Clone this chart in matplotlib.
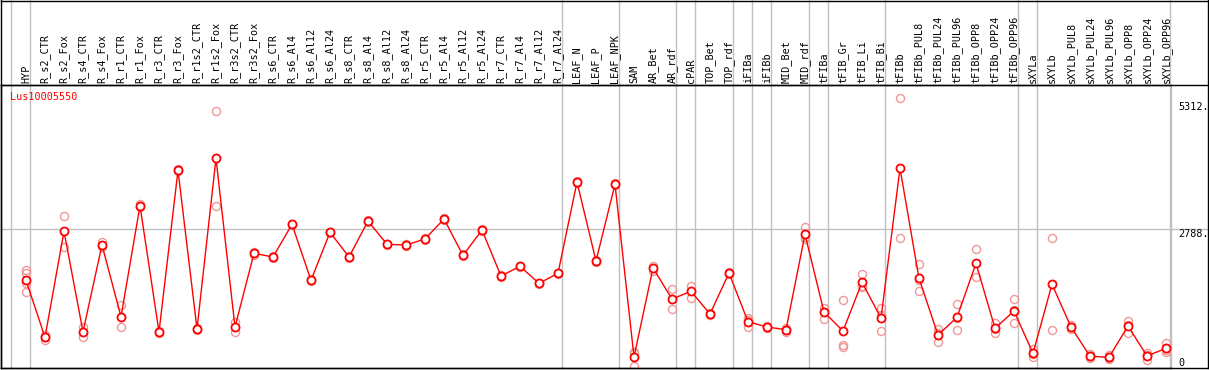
import numpy as np
import matplotlib
matplotlib.use("Agg")
import matplotlib.pyplot as plt
from matplotlib.lines import Line2D

categories = [
    "HYP", "R_s2_CTR", "R_s2_Fox", "R_s4_CTR", "R_s4_Fox", "R_r1_CTR", "R_r1_Fox",
    "R_r3_CTR", "R_r3_Fox", "R_r1s2_CTR", "R_r1s2_Fox", "R_r3s2_CTR", "R_r3s2_Fox",
    "R_s6_CTR", "R_s6_Al4", "R_s6_Al12", "R_s6_Al24", "R_s8_CTR", "R_s8_Al4",
    "R_s8_Al12", "R_s8_Al24", "R_r5_CTR", "R_r5_Al4", "R_r5_Al12", "R_r5_Al24",
    "R_r7_CTR", "R_r7_Al4", "R_r7_Al12", "R_r7_Al24", "LEAF_N", "LEAF_P", "LEAF_NPK",
    "SAM", "AR_Bet", "AR_rdf", "cPAR", "TOP_Bet", "TOP_rdf", "iFIBa", "iFIBb",
    "MID_Bet", "MID_rdf", "tFIBa", "tFIB_Gr", "tFIB_Li", "tFIB_Bi", "tFIBb",
    "tFIBb_PUL8", "tFIBb_PUL24", "tFIBb_PUL96", "tFIBb_OPP8", "tFIBb_OPP24",
    "tFIBb_OPP96", "sXYLa", "sXYLb", "sXYLb_PUL8", "sXYLb_PUL24", "sXYLb_PUL96",
    "sXYLb_OPP8", "sXYLb_OPP24", "sXYLb_OPP96",
]

values = [
    1756, 619, 2734, 730, 2461, 1030, 3245, 724, 3952, 784, 4191, 824, 2295,
    2222, 2874, 1756, 2715, 2222, 2940, 2475, 2461, 2581, 2980, 2255, 2760,
    1842, 2036, 1696, 1896, 3719, 2142, 3673, 226, 2002, 1383, 1537, 1084,
    1902, 931, 824, 771, 2674, 1124, 745, 1716, 1004, 3992, 1796, 665, 1018,
    2096, 798, 1144, 299, 1677, 824, 240, 220, 844, 246, 399,
]

replicates = [
    [1962, 1896, 1697, 1517], [665, 619, 565], [3034, 2427], [830, 619],
    [2527, 2427], [1263, 818], [3270, 3220], [745, 705], [3975, 3930],
    [800, 768], [5136, 3233], [931, 718], [2330, 2260], [2240, 2205],
    [2890, 2858], [1775, 1738], [2730, 2700], [2240, 2205], [2955, 2925],
    [2490, 2460], [2478, 2445], [2598, 2565], [2995, 2965], [2272, 2238],
    [2778, 2742], [1860, 1825], [2052, 2020], [1712, 1680], [1912, 1880],
    [3735, 3703], [2158, 2126], [3690, 3656], [330, 299, 52], [2048, 1950],
    [1577, 1178], [1649, 1410], [1100, 1068], [1918, 1886], [998, 964, 831],
    [840, 808], [805, 790, 718], [2820, 2630, 2575], [1198, 1124, 990],
    [1357, 465, 419], [1882, 1643, 1623], [1210, 1057, 745], [5389, 2595],
    [2076, 1543, 1770], [778, 519, 698], [1283, 765, 1006], [2375, 1816],
    [910, 699, 785], [1377, 898, 1157], [379, 232, 286], [2595, 765],
    [864, 778, 830], [285, 200, 240], [180, 265, 215], [950, 711, 871],
    [312, 166, 260], [499, 332, 366],
]

group_ends = [-1, 0, 28, 31, 34, 35, 37, 38, 39, 41, 42, 45, 52, 53, 60]
ytick_values = [0, 2788, 5312]
ytick_labels = ["0", "2788.", "5312."]
title = "Lus10005550"

W, H = 1209, 370
fig = plt.figure(figsize=(W / 100, H / 100), dpi=100)

# plot-area geometry in pixels
px_left, px_right, px_top, px_bottom = 1.0, 1170.7, 85.0, 368.3
ax_w = px_right - px_left
ax_h = px_bottom - px_top
ax = fig.add_axes([px_left / W, (H - px_bottom) / H, ax_w / W, ax_h / H])

n = len(categories)
x = np.arange(n)
ax.set_xlim((px_left - 26) / 19, (px_right - 26) / 19)
ax.set_ylim(0, 5655)
ax.set_xticks([])
ax.set_yticks([])

grid_c = "#c0c0c0"
for s in ["left", "bottom", "top"]:
    ax.spines[s].set_color("black")
    ax.spines[s].set_linewidth(1.0)
ax.spines["right"].set_color(grid_c)
ax.spines["right"].set_linewidth(1.0)

# group separator lines (extend up through label area)
top_frac = px_bottom / ax_h
for g in group_ends:
    ax.axvline(g + 0.226, ymin=0, ymax=top_frac, color=grid_c, lw=1.0,
               clip_on=False, zorder=1)

# horizontal grid line
ax.axhline(2788, xmin=0, xmax=(1208 - px_left) / ax_w, color=grid_c, lw=1.0,
           clip_on=False, zorder=1)

# outer frame and the top line of plot area extended
fr = dict(color="black", lw=1.0)
fig.add_artist(Line2D([1 / W, 1208 / W], [(H - 0.5) / H, (H - 0.5) / H], **fr))
fig.add_artist(Line2D([1 / W, 1 / W], [(H - px_bottom) / H, 1], **fr))
fig.add_artist(Line2D([1208 / W, 1208 / W], [(H - px_bottom) / H, 1], **fr))
fig.add_artist(Line2D([px_left / W, 1208 / W], [(H - px_top) / H, (H - px_top) / H], **fr))
fig.add_artist(Line2D([px_left / W, 1208 / W], [(H - px_bottom) / H, (H - px_bottom) / H], **fr))

# category labels
xtr = ax.get_xaxis_transform()
lab_y = (px_bottom - 83) / ax_h
for i, c in enumerate(categories):
    ax.text(i, lab_y, c, transform=xtr, rotation=90, ha="center", va="bottom",
            family="DejaVu Sans Mono", fontsize=7.3, color="black", clip_on=False)

# y tick labels on right
ytr = ax.get_yaxis_transform()
lx = (1178 - px_left) / ax_w
for v, t in zip(ytick_values, ytick_labels):
    ax.text(lx, v, t, transform=ytr, ha="left", va="bottom" if v == 0 else "top",
            family="DejaVu Sans Mono", fontsize=7.3, color="black", clip_on=False)

# title
ax.text((10 - px_left) / ax_w, (px_bottom - 96.7) / ax_h, title, transform=ax.transAxes,
        ha="left", va="center", color="#ff0000", family="DejaVu Sans Mono", fontsize=7.3)

# replicates
for i, reps in enumerate(replicates):
    ax.plot([i] * len(reps), reps, "o", mfc="none", mec="#f09898", ms=5.8, mew=1.0,
            zorder=2)

# mean line and markers
ax.plot(x, values, "-", color="#ff0000", lw=1.0, zorder=3)
ax.plot(x, values, "o", mfc="white", mec="#ff0000", ms=5.8, mew=1.3, zorder=4)

fig.savefig("out.png", dpi=100)
